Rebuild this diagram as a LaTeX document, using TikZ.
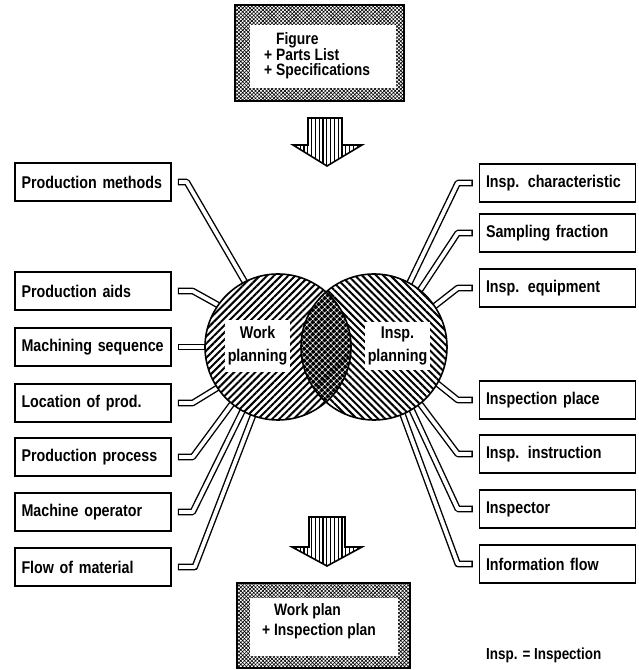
\documentclass[tikz,border=0pt]{standalone}
\usepackage{fontspec}
\setmainfont{Liberation Sans}[FakeStretch=0.84]
\usetikzlibrary{patterns.meta}

% double-walled connector: black body, white core, closed ends
\tikzset{
  tubeout/.style={line width=6.6pt, line join=round, shorten >=-3pt},
  tubein/.style={white, line width=3.8pt, line join=round, shorten <=1.4pt, shorten >=-3pt}
}
\newcommand\tubeconn[1]{\draw[tubeout] #1; \draw[tubein] #1;}

\begin{document}
\begin{tikzpicture}[x=1pt,y=1pt,
  lbl/.style={font=\bfseries\fontsize{17}{19}\selectfont},
  item/.style={draw, line width=1.5pt, minimum width=156pt, minimum height=38pt,
               inner sep=0pt, text width=143pt, align=left, lbl},
  hub/.style={circle, minimum size=146pt, inner sep=0pt, outer sep=0pt},
  frame/.style={draw, line width=2pt, inner sep=0pt,
                preaction={fill=white},
                pattern={Hatch[angle=45,distance=2.6pt,line width=0.6pt]}},
  window/.style={fill=white, inner sep=0pt},
  bigarrow/.style={draw, line width=1.6pt, line join=miter,
                   preaction={fill=white},
                   pattern={Lines[angle=90,distance=3.8pt,line width=1.2pt]}},
  hubtext/.style={fill=white, inner sep=0pt, align=center,
                  font=\bfseries\fontsize{17}{23}\selectfont}
]
\useasboundingbox (0,0) rectangle (638,670);

% hubs (placed first, drawn after the connectors)
\node[hub] (wp) at (278,323) {};
\node[hub] (ip) at (374,323) {};

% input and output documents
\node[frame, minimum width=169pt, minimum height=96pt] (src) at (319.5,617) {};
\node[window, minimum width=146pt, minimum height=63pt] (srcw) at (323,613.5) {};
\node[anchor=north west, align=left, inner sep=0pt,
      font=\bfseries\fontsize{16.5}{15}\selectfont] (srct) at (264,638)
  {\hphantom{+ }Figure\\+ Parts List\\+ Specifications};

\node[frame, minimum width=173pt, minimum height=85pt] (res) at (323.5,44.5) {};
\node[window, minimum width=148pt, minimum height=58pt] (resw) at (324,43) {};
\node[anchor=north west, align=left, inner sep=0pt,
      font=\bfseries\fontsize{16.5}{20}\selectfont] (rest) at (262,67)
  {\hphantom{+ }Work plan\\+ Inspection plan};

% block arrows
\draw[bigarrow] (308,552) -- (342,552) -- (342,525) -- (362,525) -- (327,504)
  -- (293,525) -- (308,525) -- cycle;
\draw[bigarrow] (309,153) -- (345,153) -- (345,123) -- (362,123) -- (327,104)
  -- (292,123) -- (309,123) -- cycle;

% work planning items
\node[item] (l1) at (93,488) {Production methods};
\node[item] (l2) at (93,379) {Production aids};
\node[item] (l3) at (93,323) {Machining sequence};
\node[item] (l4) at (93,267) {Location of prod.};
\node[item] (l5) at (93,213) {Production process};
\node[item] (l6) at (93,158) {Machine operator};
\node[item] (l7) at (93,103) {Flow of material};

% inspection planning items
\node[item] (r1) at (557.5,487) {Insp. characteristic};
\node[item] (r2) at (557.5,437) {Sampling fraction};
\node[item] (r3) at (557.5,382) {Insp. equipment};
\node[item] (r4) at (557.5,270) {Inspection place};
\node[item] (r5) at (557.5,216) {Insp. instruction};
\node[item] (r6) at (557.5,161) {Inspector};
\node[item] (r7) at (557.5,106) {Information flow};

% connectors
\tubeconn{([xshift=6pt]l1.east) -- ++(9,0) -- (wp.117)}
\tubeconn{([xshift=6pt]l2.east) -- ++(15,0) -- (wp.145)}
\tubeconn{([xshift=6pt]l3.east) -- (wp.180)}
\tubeconn{([xshift=6pt]l4.east) -- ++(15,0) -- (wp.214)}
\tubeconn{([xshift=6pt]l5.east) -- ++(15,0) -- (wp.231)}
\tubeconn{([xshift=6pt]l6.east) -- ++(15,0) -- (wp.241)}
\tubeconn{([xshift=6pt]l7.east) -- ++(17,0) -- (wp.250)}

\tubeconn{([xshift=-6pt]r1.west) -- ++(-15,0) -- (ip.61)}
\tubeconn{([xshift=-6pt]r2.west) -- ++(-15,0) -- (ip.51)}
\tubeconn{([xshift=-6pt]r3.west) -- ++(-15,0) -- (ip.34)}
\tubeconn{([xshift=-6pt]r4.west) -- ++(-15,0) -- (ip.-30)}
\tubeconn{([xshift=-6pt]r5.west) -- ++(-15,0) -- (ip.-51)}
\tubeconn{([xshift=-6pt]r6.west) -- ++(-15,0) -- (ip.-59)}
\tubeconn{([xshift=-6pt]r7.west) -- ++(-15,0) -- (ip.-67)}

% hub circles with hatching, overlap cross-hatched
\fill[white] (wp.center) circle (73) (ip.center) circle (73);
\fill[pattern={Lines[angle=45,distance=5pt,line width=2pt]}] (wp.center) circle (73);
\fill[pattern={Lines[angle=-45,distance=5pt,line width=2pt]}] (ip.center) circle (73);
\begin{scope}
  \clip (wp.center) circle (73);
  \fill[white] (ip.center) circle (73);
  \fill[pattern={Hatch[angle=45,distance=4pt,line width=2.7pt]}] (ip.center) circle (73);
\end{scope}
\draw[line width=1.6pt] (wp.center) circle (73) (ip.center) circle (73);

\node[hubtext, minimum width=65pt, minimum height=52pt] (wpt) at (257.5,324) {Work\\planning};
\node[hubtext, minimum width=65pt, minimum height=48pt] (ipt) at (397.5,324) {Insp.\\planning};

% abbreviation note
\node[anchor=west, inner sep=0pt, font=\bfseries\fontsize{16}{18}\selectfont] (note)
  at (486,15) {Insp. = Inspection};
\end{tikzpicture}
\end{document}
